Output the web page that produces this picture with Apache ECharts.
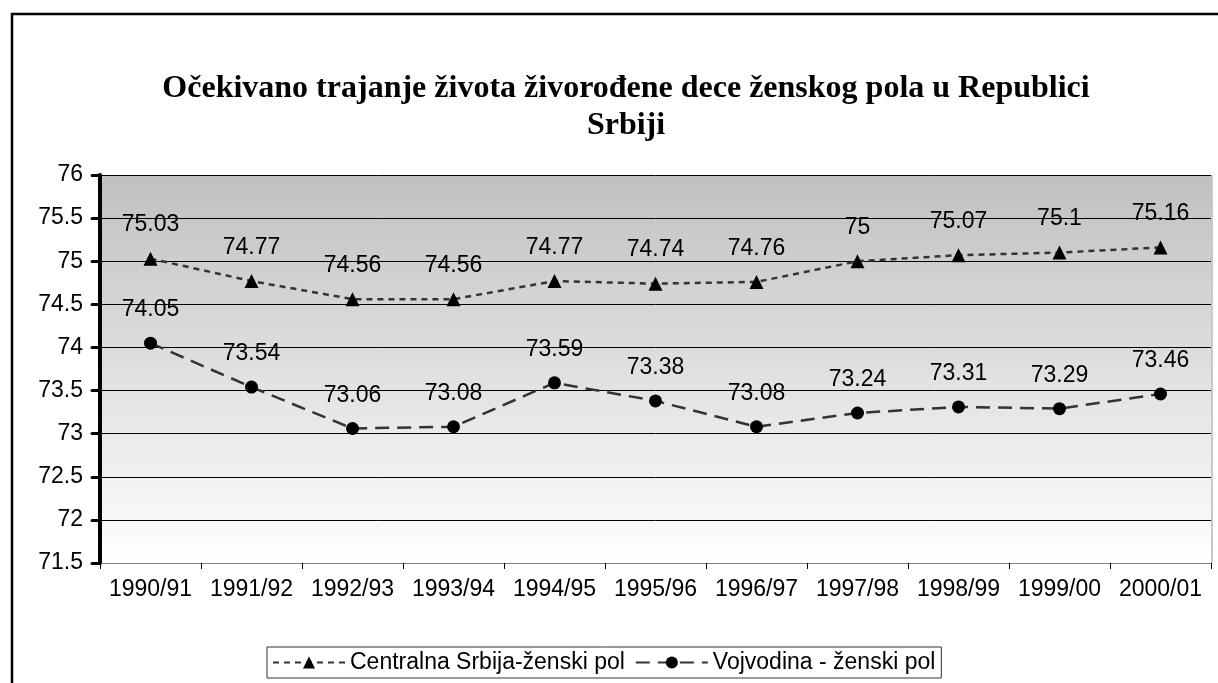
<!DOCTYPE html>
<html><head><meta charset="utf-8">
<script src="https://cdn.jsdelivr.net/npm/echarts@6/dist/echarts.min.js"></script>
<style>html,body{margin:0;padding:0;background:#fff}#c{width:1218px;height:683px}</style>
</head><body><div id="c"></div>
<script>
const categories = ['1990/91','1991/92','1992/93','1993/94','1994/95','1995/96','1996/97','1997/98','1998/99','1999/00','2000/01'];
const centralna = [75.03,74.77,74.56,74.56,74.77,74.74,74.76,75,75.07,75.1,75.16];
const vojvodina = [74.05,73.54,73.06,73.08,73.59,73.38,73.08,73.24,73.31,73.29,73.46];
const seriesNames = ['Centralna Srbija-ženski pol','Vojvodina - ženski pol'];
const titleText = 'Očekivano trajanje života živorođene dece ženskog pola u Republici\nSrbiji';

const chart = echarts.init(document.getElementById('c'), null, {renderer:'canvas'});
const sans = 'Liberation Sans, Arial, sans-serif';
const labelCfg = {show:true, position:'top', distance:15, fontFamily:sans, fontSize:23, color:'#000'};
chart.setOption({
  animation:false,
  title:{text:titleText, left:621, top:65, textAlign:'center',
    textStyle:{fontFamily:'Liberation Serif, Times New Roman, serif', fontWeight:'bold', fontSize:32, color:'#000', lineHeight:37}},
  graphic:[{type:'polyline', shape:{points:[[12,683],[12,14],[1218,14]]}, style:{stroke:'#000', lineWidth:2.5, fill:null}, z:100},
           {type:'line', shape:{x1:1212,y1:175,x2:1212,y2:563}, style:{stroke:'#c8c8c8', lineWidth:2}, z:0}],
  grid:{left:100, right:7, top:175, bottom:120, show:true, borderWidth:0,
    backgroundColor:new echarts.graphic.LinearGradient(0,0,0,1,[{offset:0,color:'#c0c0c0'},{offset:1,color:'#ffffff'}])},
  legend:{data:seriesNames, left:267, top:647, width:900, borderColor:'#333', borderWidth:1, padding:[4,6,4,5],
    itemWidth:72, itemHeight:15, itemGap:10,
    textStyle:{fontFamily:sans, fontSize:23, color:'#000'}},
  xAxis:{type:'category', data:categories, boundaryGap:true,
    axisLine:{lineStyle:{color:'#808080', width:1}},
    axisTick:{show:true, length:6, interval:0, lineStyle:{color:'#000'}},
    axisLabel:{interval:0, fontFamily:sans, fontSize:23, color:'#000', margin:15}},
  yAxis:{type:'value', min:71.5, max:76, interval:0.5,
    axisLine:{show:true, lineStyle:{color:'#000', width:4}},
    axisTick:{show:true, length:8, lineStyle:{color:'#000', width:3, cap:'round'}},
    splitLine:{lineStyle:{color:'#000', width:1}},
    axisLabel:{fontFamily:sans, fontSize:23, color:'#000', margin:17}},
  series:[
    {name:seriesNames[0], type:'line', data:centralna, symbol:'triangle', symbolSize:14,
      lineStyle:{color:'#333', width:2.5, type:[6,5]}, itemStyle:{color:'#000'}, label:labelCfg},
    {name:seriesNames[1], type:'line', data:vojvodina, symbol:'circle', symbolSize:13,
      lineStyle:{color:'#333', width:2.5, type:[14,8]}, itemStyle:{color:'#000'}, label:labelCfg}
  ]
});
</script></body></html>
